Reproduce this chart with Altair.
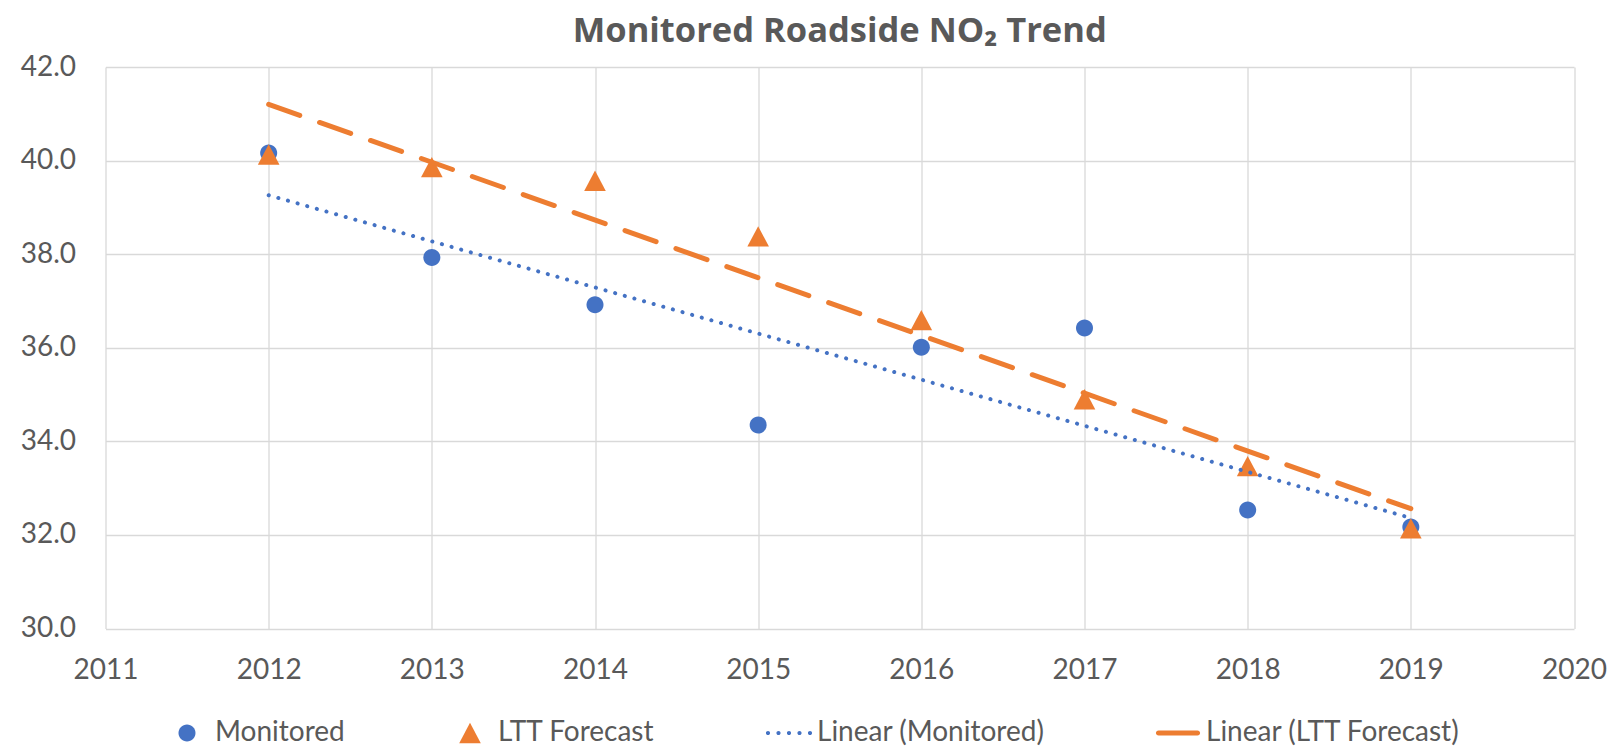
import altair as alt
import pandas as pd

# ---- data ----
years = [2012, 2013, 2014, 2015, 2016, 2017, 2018, 2019]
monitored = [40.16, 37.93, 36.92, 34.35, 36.01, 36.42, 32.53, 32.17]
ltt_forecast = [40.13, 39.86, 39.57, 38.38, 36.59, 34.90, 33.47, 32.14]
series_names = ["Monitored", "LTT Forecast", "Linear (Monitored)", "Linear (LTT Forecast)"]
x_ticks = [2011, 2012, 2013, 2014, 2015, 2016, 2017, 2018, 2019, 2020]
y_ticks = [30, 32, 34, 36, 38, 40, 42]
title_text = "Monitored Roadside NO₂ Trend"

BLUE = "#4472C4"
ORANGE = "#ED7D31"
GRID = "#D9D9D9"
TEXT = "#595959"
FONT = "Lato"

rows = [{"year": y, "value": v, "series": "Monitored"} for y, v in zip(years, monitored)]
rows += [{"year": y, "value": v, "series": "LTT Forecast"} for y, v in zip(years, ltt_forecast)]
df = pd.DataFrame(rows)


def dot(cx, r):
    return f"M{cx - r},0A{r},{r},0,1,1,{cx + r},0A{r},{r},0,1,1,{cx - r},0Z"


# symbol paths (unit = sqrt(size)/2 px)
CIRCLE = dot(0, 0.567)
TRIANGLE = "M0,-0.68L0.72,0.68L-0.72,0.68Z"
DOTS = "".join(dot(c, 0.14) for c in (-1.4, -0.7, 0, 0.7, 1.4))
DASH = "M-1.3,-0.17L1.3,-0.17A0.17,0.17,0,0,1,1.3,0.17L-1.3,0.17A0.17,0.17,0,0,1,-1.3,-0.17Z"
shape_range = [CIRCLE, TRIANGLE, DOTS, DASH]
color_range = [BLUE, ORANGE, BLUE, ORANGE]

legend = alt.Legend(
    orient="none",
    legendX=66.5,
    legendY=651,
    direction="horizontal",
    columns=4,
    title=None,
    labelFont=FONT,
    labelFontSize=28,
    labelColor=TEXT,
    labelLimit=500,
    symbolSize=900,
    symbolStrokeWidth=0,
    symbolOpacity=1,
    labelOffset=13,
    columnPadding=110,
    padding=0,
)

x_enc = alt.X(
    "year:Q",
    scale=alt.Scale(domain=[2011, 2020], nice=False, zero=False),
    axis=alt.Axis(values=x_ticks, format="d", title=None, labelPadding=28, labelFlush=False),
)
y_enc = alt.Y(
    "value:Q",
    scale=alt.Scale(domain=[30, 42], nice=False, zero=False),
    axis=alt.Axis(values=y_ticks, format=".1f", title=None, labelPadding=30, minExtent=92, maxExtent=92),
)

points = alt.Chart(df).mark_point(filled=True, opacity=1, size=900, strokeWidth=0).encode(
    x=x_enc,
    y=y_enc,
    color=alt.Color("series:N", scale=alt.Scale(domain=series_names, range=color_range), legend=legend),
    shape=alt.Shape("series:N", scale=alt.Scale(domain=series_names, range=shape_range), legend=legend),
)

trend_m = (
    alt.Chart(df)
    .transform_filter("datum.series === 'Monitored'")
    .transform_regression("year", "value")
    .mark_line(color=BLUE, strokeWidth=4, strokeDash=[0.1, 9.9], strokeCap="round")
    .encode(x="year:Q", y="value:Q")
)

trend_l = (
    alt.Chart(df)
    .transform_filter("datum.series === 'LTT Forecast'")
    .transform_regression("year", "value")
    .mark_line(color=ORANGE, strokeWidth=5, strokeDash=[33, 21], strokeCap="round")
    .encode(x="year:Q", y="value:Q")
)

chart = (
    alt.layer(points, trend_m, trend_l)
    .properties(
        width=1468.5,
        height=561.5,
        title=alt.TitleParams(title_text, font="Open Sans", fontSize=34.5, fontWeight="bold", color=TEXT, offset=4, anchor="middle"),
        padding={"left": 5.5, "top": 5, "right": 0, "bottom": 0},
    )
    .configure_view(stroke=None)
    .configure_axis(
        labelFont=FONT,
        labelFontSize=28,
        labelColor=TEXT,
        grid=True,
        gridColor=GRID,
        gridWidth=1.3,
        domain=False,
        ticks=False,
    )
)

chart.save("out.html", embed_options={"renderer": "svg", "actions": False})
